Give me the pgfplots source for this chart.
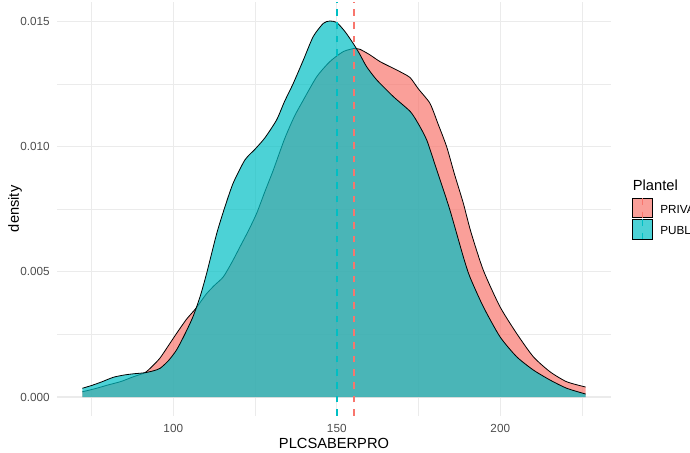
\documentclass[border=0pt]{standalone}
\usepackage{pgfplots}
\usepackage{pgfplotstable}
\pgfplotsset{compat=1.18}
\usepackage{fontspec}
\setmainfont{Liberation Sans}

\definecolor{priv}{HTML}{F8766D}
\definecolor{publ}{HTML}{00BFC4}
\definecolor{gridc}{HTML}{EBEBEB}
\definecolor{tickc}{HTML}{4D4D4D}

% density estimates
\pgfplotstableread{
x y
72.2 0.00021
76 0.00033
80 0.00048
84 0.00062
87.8 0.00081
91.3 0.00097
93.5 0.00122
95.9 0.00155
98.5 0.00205
101 0.00254
104 0.0031
106.9 0.00354
110 0.0041
112.5 0.00445
115.3 0.0048
118 0.0054
120.4 0.006
123 0.00665
125.5 0.00734
128 0.0082
130.6 0.00907
134 0.0103
137 0.0112
139.8 0.01187
143.9 0.0128
147.9 0.0134
152 0.0138
155.6 0.01393
157.1 0.01389
160 0.01368
163.2 0.0134
167.3 0.01313
170 0.01295
172.5 0.01275
175 0.0123
178.5 0.01173
181 0.0109
183.6 0.0100
186 0.0089
188.7 0.00774
191 0.0066
194.8 0.00507
199.9 0.00361
205 0.00254
210.1 0.00161
215.2 0.00101
220.3 0.00061
226.1 0.0004
}\privado

\pgfplotstableread{
x y
72.2 0.00035
75 0.00046
78 0.00060
81.7 0.00079
85 0.00088
88 0.00093
91.3 0.00097
94 0.00105
96 0.00115
98.5 0.00145
101 0.00188
103.5 0.0025
106 0.0032
108.2 0.00401
110.2 0.00494
113.3 0.00654
115.8 0.0076
118.3 0.00854
121.9 0.00947
125 0.0099
128 0.01035
131.6 0.01107
134 0.0118
136.7 0.01253
139.8 0.01347
142.8 0.0144
145.9 0.01493
147.9 0.01502
150 0.01496
152.5 0.0146
155 0.01413
157 0.0137
159.1 0.0132
162.2 0.01267
167.3 0.012
172.5 0.0114
175 0.0109
177.5 0.01027
180 0.0093
181.6 0.00867
184.6 0.00747
188.7 0.0056
190.7 0.0048
194.8 0.00361
199.9 0.00241
205 0.00161
210.1 0.00108
215.2 0.00068
220.3 0.00035
226.1 0.00012
}\publico

\begin{document}
\begin{tikzpicture}
\useasboundingbox (0,0) rectangle (517.5pt,339.75pt);
\begin{axis}[
    at={(42.9pt,27.9pt)}, anchor=south west,
    scale only axis, width=415.2pt, height=310.35pt,
    xmin=64.5, xmax=233.8, ymin=-0.00075, ymax=0.01578,
    axis line style={draw=none},
    major tick length=0pt, minor tick length=0pt,
    xtick={100,150,200}, minor xtick={75,125,175,225},
    ytick={0,0.005,0.01,0.015}, yticklabels={0.000,0.005,0.010,0.015},
    minor ytick={0.0025,0.0075,0.0125},
    scaled y ticks=false,
    grid=both,
    major grid style={gridc, line width=0.8pt},
    minor grid style={gridc, line width=0.4pt},
    tick label style={font=\fontsize{8.8}{10}\selectfont, color=tickc},
    /pgf/number format/assume math mode=true,
    xticklabel style={inner sep=0pt, anchor=north, yshift=-6pt},
    yticklabel style={inner sep=0pt, anchor=east, xshift=-5.4pt},
    xlabel={PLCSABERPRO}, ylabel={density},
    label style={font=\fontsize{11}{13}\selectfont},
    xlabel style={at={(axis description cs:0.5,-0.0657)}, anchor=center},
    ylabel style={at={(axis description cs:-0.0762,0.5)}, anchor=center},
]
  \addplot[draw=none, fill=priv, fill opacity=0.7, smooth, tension=0.4]
      table {\privado} \closedcycle;
  \addplot[black, line width=0.6pt, smooth, tension=0.4] table {\privado};

  \addplot[draw=none, fill=publ, fill opacity=0.7, smooth, tension=0.4]
      table {\publico} \closedcycle;
  \addplot[black, line width=0.6pt, smooth, tension=0.4] table {\publico};

  % group means
  \addplot[priv, line width=1.1pt, dash pattern=on 5pt off 5pt]
      coordinates {(155.3,-0.00075) (155.3,0.01578)};
  \addplot[publ, line width=1.1pt, dash pattern=on 5pt off 5pt]
      coordinates {(150,-0.00075) (150,0.01578)};
\end{axis}

% legend
\node[anchor=base west, inner sep=0pt, font=\fontsize{11}{13}\selectfont]
    at (474.5pt,196.5pt) {Plantel};
\draw[black, line width=0.5pt, fill=priv, fill opacity=0.7]
    (474.5pt,176.5pt) rectangle (489.5pt,191pt);
\draw[priv, line width=1.1pt, dash pattern=on 5pt off 5pt]
    (482pt,191pt) -- (482pt,176.5pt);
\draw[black, line width=0.5pt, fill=publ, fill opacity=0.7]
    (474.5pt,160.3pt) rectangle (489.5pt,175.3pt);
\draw[publ, line width=1.1pt, dash pattern=on 5pt off 5pt]
    (482pt,175.3pt) -- (482pt,160.3pt);
\node[anchor=west, inner sep=0pt, font=\fontsize{8.8}{10}\selectfont]
    at (495pt,183pt) {PRIVADO};
\node[anchor=west, inner sep=0pt, font=\fontsize{8.8}{10}\selectfont]
    at (495pt,167.25pt) {PUBLICO};
\end{tikzpicture}
\end{document}
